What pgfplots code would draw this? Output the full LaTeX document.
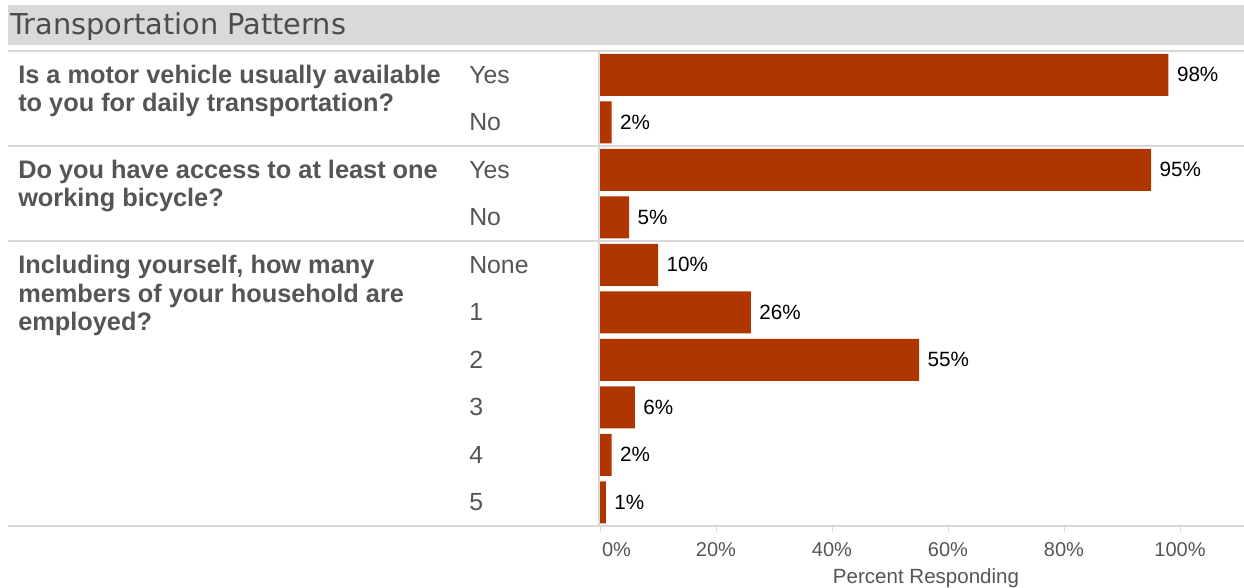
\documentclass[border=0pt]{standalone}
\usepackage{pgfplots}
\pgfplotsset{compat=1.18}
\usepackage{fontspec}
\setmainfont{Liberation Sans}
\newfontfamily\titlefont{DejaVu Sans}
\definecolor{barc}{RGB}{176,54,0}
\definecolor{txt}{RGB}{85,85,85}
\definecolor{sep}{RGB}{216,216,216}
\definecolor{ttl}{RGB}{217,217,217}
\begin{document}
\begin{tikzpicture}[x=0.75pt,y=-0.75pt,
  q/.style={anchor=base west, inner sep=0pt, text=txt, font=\bfseries\fontsize{19}{21}\selectfont}]
\fill[ttl] (8,5) rectangle (1244,45);
\node[anchor=base west, inner sep=0pt, text=txt!90!black, font=\titlefont\fontsize{21.6}{24}\selectfont] at (10,35) {Transportation Patterns};
\draw[sep, line width=1.2pt] (8,51) -- (1244,51);
\draw[sep, line width=1.2pt] (8,146) -- (1244,146);
\draw[sep, line width=1.2pt] (8,241) -- (1244,241);
\draw[sep, line width=1.2pt] (8,526) -- (1244,526);
\draw[sep, line width=1.2pt] (599,51) -- (599,526);
\begin{axis}[
  at={(450pt,-394.5pt)}, anchor=south west,
  scale only axis, width=480pt, height=356.25pt,
  xmin=0, xmax=110.345, ymin=0.5, ymax=10.5, y dir=reverse,
  xbar, bar width=31.5pt, bar shift=0pt,
  axis line style={draw=none},
  xtick={0,20,...,100},
  xticklabels={\makebox[0pt][l]{\hspace{1.5pt}0\%},20\%,40\%,60\%,80\%,100\%},
  xtick pos=left, tick align=outside, major tick length=4.5pt,
  xtick style={draw=sep, line width=0.75pt},
  ytick={1,...,10}, yticklabels={Yes,No,Yes,No,None,1,2,3,4,5},
  ytick style={draw=none},
  yticklabel style={anchor=west, xshift=-93.75pt, inner sep=0pt, text=txt, font=\fontsize{18.6}{21}\selectfont},
  xticklabel style={text=txt, font=\fontsize{15}{18}\selectfont, yshift=-4.5pt},
  xlabel={Percent Responding},
  xlabel style={text=txt, font=\fontsize{15.4}{18}\selectfont, yshift=-2pt, xshift=4.5pt},
  /pgf/number format/assume math mode=true,
  nodes near coords={\pgfmathprintnumber{\pgfplotspointmeta}\%},
  nodes near coords style={anchor=west, text=black, font=\fontsize{15.5}{18}\selectfont, xshift=6.25pt, inner sep=0pt},
  point meta=x,
]
\addplot[fill=barc, draw=none] coordinates {(98,1) (2,2) (95,3) (5,4) (10,5) (26,6) (55,7) (6,8) (2,9) (1,10)};
\end{axis}
\node[q] at (18,83.6) {Is a motor vehicle usually available};
\node[q] at (18,111.6) {to you for daily transportation?};
\node[q] at (18,178.6) {Do you have access to at least one};
\node[q] at (18,206.6) {working bicycle?};
\node[q] at (18,273.6) {Including yourself, how many};
\node[q] at (18,302.1) {members of your household are};
\node[q] at (18,330.6) {employed?};
\pgfresetboundingbox
\useasboundingbox (0,0) rectangle (1244,588);
\end{tikzpicture}
\end{document}
